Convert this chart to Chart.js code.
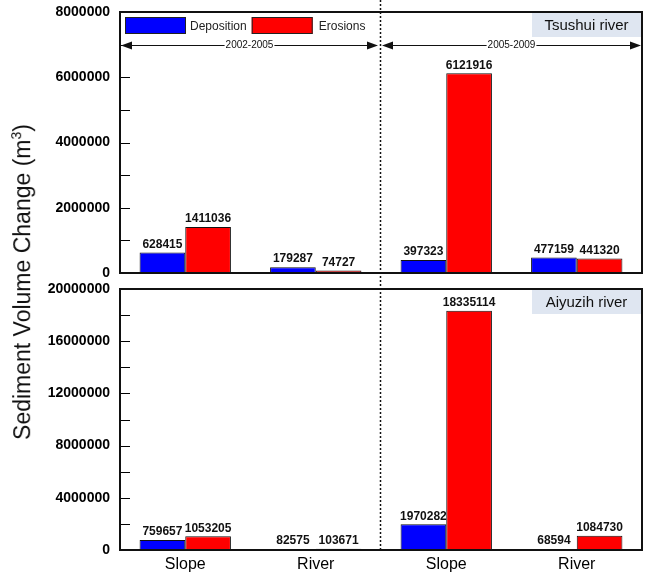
<!DOCTYPE html>
<html>
<head>
<meta charset="utf-8">
<script src="https://cdn.jsdelivr.net/npm/chart.js@4/dist/chart.umd.min.js"></script>
<style>
  html, body { margin: 0; padding: 0; background: #fff; }
  #wrap { position: relative; width: 648px; height: 576px; overflow: hidden; }
  #wrap canvas { position: absolute; left: 0; }
  #top { top: 0; }
  #bottom { top: 280px; }
  #ytitle {
    position: absolute; left: 22px; top: 282px; width: 460px;
    transform: translate(-50%, -50%) rotate(-90deg);
    text-align: center; white-space: nowrap;
    font: 23px "Liberation Sans", Arial, sans-serif; color: #111;
  }
  #ytitle sup { font-size: 14px; }
</style>
</head>
<body>
<div id="wrap">
  <canvas id="top" width="648" height="280"></canvas>
  <canvas id="bottom" width="648" height="296"></canvas>
  <div id="ytitle">Sediment Volume Change (m<sup>3</sup>)</div>
</div>
<script>
// Sediment budget per landscape unit, two survey periods
const categories = ['Slope', 'River', 'Slope', 'River'];
const periods = ['2002-2005', '2005-2009'];
const seriesNames = ['Deposition', 'Erosions'];

const tsushuiDeposition = [628415, 179287, 397323, 477159];
const tsushuiErosion = [1411036, 74727, 6121916, 441320];

const aiyuzihDeposition = [759657, 82575, 1970282, 68594];
const aiyuzihErosion = [1053205, 103671, 18335114, 1084730];

const tsushuiTicks = { max: 8000000, step: 1000000, labelEvery: 2000000 };
const aiyuzihTicks = { max: 20000000, step: 2000000, labelEvery: 4000000 };

const FONT = '"Liberation Sans", Arial, sans-serif';
const BLUE = '#0000ff';
const RED = '#ff0000';

// Frame, inward ticks, value labels, period divider and river tag
const panelDecor = {
  id: 'panelDecor',
  afterDatasetsDraw(chart) {
    const { ctx, chartArea: a, scales } = chart;
    const y = scales.y;
    ctx.save();
    // inward tick marks
    ctx.strokeStyle = '#000';
    ctx.lineWidth = 1;
    y.ticks.forEach((t, i) => {
      const py = Math.round(y.getPixelForTick(i)) + 0.5;
      ctx.beginPath();
      ctx.moveTo(a.left, py);
      ctx.lineTo(a.left + 10, py);
      ctx.stroke();
    });
    // bar value labels
    ctx.fillStyle = '#111';
    ctx.font = 'bold 12px ' + FONT;
    ctx.textAlign = 'center';
    ctx.textBaseline = 'bottom';
    chart.data.datasets.forEach((ds, di) => {
      chart.getDatasetMeta(di).data.forEach((bar, i) => {
        ctx.fillText(String(ds.data[i]), bar.x, bar.y - 2);
      });
    });
    // plot frame
    ctx.strokeStyle = '#111';
    ctx.lineWidth = 2;
    ctx.strokeRect(a.left, a.top, a.right - a.left, a.bottom - a.top);
    ctx.restore();
  },
  afterDraw(chart, args, opts) {
    const { ctx, chartArea: a, scales } = chart;
    const x = scales.x;
    ctx.save();
    // dotted divider between the two periods
    const dx = Math.round(x.getPixelForValue(1.5)) - 0.5;
    ctx.strokeStyle = '#111';
    ctx.lineWidth = 1.5;
    ctx.setLineDash([2, 2]);
    ctx.beginPath();
    ctx.moveTo(dx, 0);
    ctx.lineTo(dx, opts.dividerToBottom ? a.bottom : chart.height);
    ctx.stroke();
    ctx.setLineDash([]);
    // river tag
    const w = 109, h = 24;
    ctx.fillStyle = '#dfe6f1';
    ctx.fillRect(a.right - w - 1, a.top + 1, w, h);
    ctx.fillStyle = '#111';
    ctx.font = '15px ' + FONT;
    ctx.textAlign = 'center';
    ctx.textBaseline = 'middle';
    ctx.fillText(opts.river, a.right - 1 - w / 2, a.top + 1 + h / 2 + 1);
    ctx.restore();
  }
};

// Legend and period arrows (upper panel only)
const periodArrows = {
  id: 'periodArrows',
  afterDraw(chart) {
    const { ctx, chartArea: a, scales } = chart;
    const x = scales.x, y = scales.y;
    ctx.save();
    // legend
    ctx.font = '12px ' + FONT;
    ctx.textBaseline = 'middle';
    ctx.textAlign = 'left';
    let lx = a.left + 5;
    const ly = a.top + 5, bw = 61, bh = 17;
    chart.data.datasets.forEach((ds, i) => {
      ctx.fillStyle = ds.backgroundColor;
      ctx.fillRect(lx, ly, bw, bh);
      ctx.strokeStyle = '#222';
      ctx.lineWidth = 1;
      ctx.strokeRect(lx + 0.5, ly + 0.5, bw - 1, bh - 1);
      lx += bw + 4 + (i === 1 ? 2 : 0);
      ctx.fillStyle = '#222';
      ctx.fillText(ds.label, lx, ly + bh / 2 + 1);
      lx += ctx.measureText(ds.label).width + 5;
    });
    // period arrows at the 7,000,000 level
    const ay = Math.round(y.getPixelForValue(7000000)) + 0.5;
    const mid = x.getPixelForValue(1.5);
    const spans = [[a.left + 1, mid - 3], [mid + 1, a.right - 1]];
    ctx.strokeStyle = '#111';
    ctx.fillStyle = '#111';
    ctx.lineWidth = 1;
    spans.forEach(([x0, x1], i) => {
      ctx.beginPath();
      ctx.moveTo(x0 + 8, ay);
      ctx.lineTo(x1 - 8, ay);
      ctx.stroke();
      ctx.beginPath();
      ctx.moveTo(x0, ay); ctx.lineTo(x0 + 11, ay - 4); ctx.lineTo(x0 + 11, ay + 4); ctx.closePath();
      ctx.fill();
      ctx.beginPath();
      ctx.moveTo(x1, ay); ctx.lineTo(x1 - 11, ay - 4); ctx.lineTo(x1 - 11, ay + 4); ctx.closePath();
      ctx.fill();
      const cx = (x0 + x1) / 2;
      ctx.font = '10px ' + FONT;
      ctx.textAlign = 'center';
      const tw = ctx.measureText(periods[i]).width;
      ctx.fillStyle = '#fff';
      ctx.fillRect(cx - tw / 2 - 1, ay - 5, tw + 2, 10);
      ctx.fillStyle = '#111';
      ctx.fillText(periods[i], cx, ay);
    });
    ctx.restore();
  }
};

function makePanel(canvasId, dep, ero, tk, cfg) {
  return new Chart(document.getElementById(canvasId), {
    type: 'bar',
    data: {
      labels: categories,
      datasets: [
        { label: seriesNames[0], data: dep, backgroundColor: BLUE, borderColor: '#111', borderWidth: 1 },
        { label: seriesNames[1], data: ero, backgroundColor: RED, borderColor: '#111', borderWidth: 1 }
      ]
    },
    options: {
      responsive: false,
      animation: false,
      devicePixelRatio: 1,
      categoryPercentage: 0.7,
      barPercentage: 1.0,
      layout: { padding: cfg.padding },
      plugins: {
        legend: { display: false },
        tooltip: { enabled: false },
        panelDecor: { river: cfg.river, dividerToBottom: cfg.dividerToBottom }
      },
      scales: {
        x: {
          display: cfg.showX,
          grid: { display: false, drawTicks: false },
          border: { display: false },
          ticks: { color: '#000', padding: 5, font: { family: FONT, size: 16 } },
          afterFit: s => { if (cfg.showX) s.height = 26; }
        },
        y: {
          min: 0,
          max: tk.max,
          grid: { display: false, drawTicks: false },
          border: { display: false },
          ticks: {
            stepSize: tk.step,
            padding: 10,
            color: '#000',
            font: { family: FONT, size: 14, weight: 'bold' },
            callback: v => (v % tk.labelEvery === 0 ? String(v) : '')
          },
          afterFit: s => {
            s.width = 120;
            s.paddingTop = 0;
            s.paddingBottom = 0;
          }
        }
      }
    },
    plugins: cfg.extra ? [panelDecor, cfg.extra] : [panelDecor]
  });
}

makePanel('top', tsushuiDeposition, tsushuiErosion, tsushuiTicks, {
  river: 'Tsushui river', showX: false, dividerToBottom: false,
  padding: { top: 12, bottom: 7, left: 0, right: 6 }, extra: periodArrows
});
makePanel('bottom', aiyuzihDeposition, aiyuzihErosion, aiyuzihTicks, {
  river: 'Aiyuzih river', showX: true, dividerToBottom: true,
  padding: { top: 9, bottom: 0, left: 0, right: 6 }
});
</script>
</body>
</html>
